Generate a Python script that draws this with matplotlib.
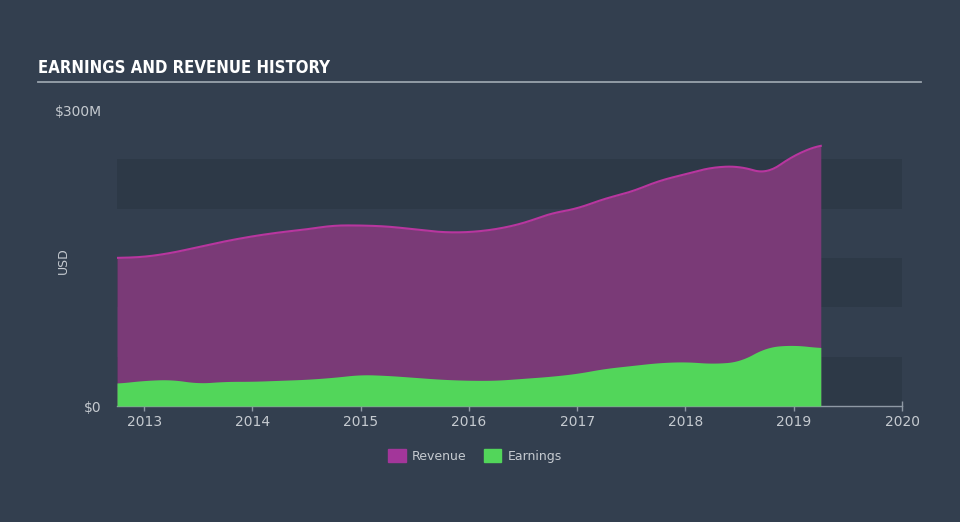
import numpy as np
import matplotlib.pyplot as plt
from matplotlib.patches import Patch

# quarterly data (USD millions)
years = [2012.75, 2013.0, 2013.25, 2013.5, 2013.75, 2014.0, 2014.25, 2014.5, 2014.75,
         2015.0, 2015.25, 2015.5, 2015.75, 2016.0, 2016.25, 2016.5, 2016.75,
         2017.0, 2017.25, 2017.5, 2017.75, 2018.0, 2018.25, 2018.5, 2018.75,
         2019.0, 2019.25]
revenue = [150, 151, 155, 161, 167, 172, 176, 179, 183,
           183, 182, 179, 176, 176, 179, 185, 195,
           200, 210, 217, 228, 235, 242, 243, 235,
           254, 265]
earnings = [23, 26, 27, 23, 25, 25, 26, 27, 29,
            32, 31, 29, 27, 26, 26, 28, 30,
            33, 38, 41, 44, 45, 43, 45, 60,
            62, 59]
xticks = [2013, 2014, 2015, 2016, 2017, 2018, 2019, 2020]

bg = "#333f4f"
band = "#2d3947"
rev_fill = "#7a3a77"
rev_line = "#b8369f"
earn_col = "#52d65a"
txt = "#c5cad0"

fig = plt.figure(figsize=(9.6, 5.22), dpi=100, facecolor=bg)
ax = fig.add_axes([117/960, 1 - 406/522, 785/960, 296/522])
ax.set_facecolor(bg)

# horizontal background bands
for lo in [0, 100, 200]:
    ax.axhspan(lo, lo + 50, color=band, zorder=0, lw=0)

# smooth the quarterly points a little for the drawn curves
xs = np.linspace(years[0], years[-1], 400)
rev_s = np.interp(xs, years, revenue)
earn_s = np.interp(xs, years, earnings)
k = np.ones(15) / 15
rev_s = np.convolve(np.pad(rev_s, 7, mode="edge"), k, mode="valid")
earn_s = np.convolve(np.pad(earn_s, 7, mode="edge"), k, mode="valid")

ax.fill_between(xs, 0, rev_s, color=rev_fill, lw=0, zorder=2)
ax.plot(xs, rev_s, color=rev_line, lw=1.5, zorder=3)
ax.fill_between(xs, 0, earn_s, color=earn_col, lw=0, zorder=4)

ax.set_xlim(2012.75, 2020)
ax.set_ylim(0, 300)

for s in ["top", "right", "left"]:
    ax.spines[s].set_visible(False)
ax.spines["bottom"].set_color("#8f99a5")
ax.spines["bottom"].set_linewidth(1)

ax.set_xticks(xticks)
ax.set_xticklabels([str(y) for y in xticks])
ax.tick_params(axis="x", colors="#8f99a5", labelcolor=txt, labelsize=10,
               length=7, width=1, direction="inout", pad=3)
ax.set_yticks([0, 300])
ax.set_yticklabels(["$0", "$300M"])
ax.tick_params(axis="y", length=0, labelcolor=txt, labelsize=10, pad=11)
ax.set_ylabel("USD", color=txt, fontsize=9)
ax.yaxis.set_label_coords(-(117 - 70)/785, 0.49)

# title and rule
fig.text(38/960, 1 - 68/522, "EARNINGS AND REVENUE HISTORY", color="white",
         fontsize=12, fontweight="bold", va="center", ha="left",
         family="DejaVu Sans", fontstretch="condensed")
fig.add_artist(plt.Line2D([38/960, 921/960], [1 - 82/522, 1 - 82/522],
                          color="#9aa3ad", lw=1.3))

handles = [Patch(color="#a3369a", label="Revenue"), Patch(color=earn_col, label="Earnings")]
leg = fig.legend(handles=handles, loc="center", bbox_to_anchor=(475/960, 1 - 456/522),
                 ncol=2, frameon=False, fontsize=9, handlelength=1.4, handleheight=1.2,
                 columnspacing=1.4, handletextpad=0.5)
for t in leg.get_texts():
    t.set_color(txt)

fig.savefig("out.png", dpi=100, facecolor=bg)
